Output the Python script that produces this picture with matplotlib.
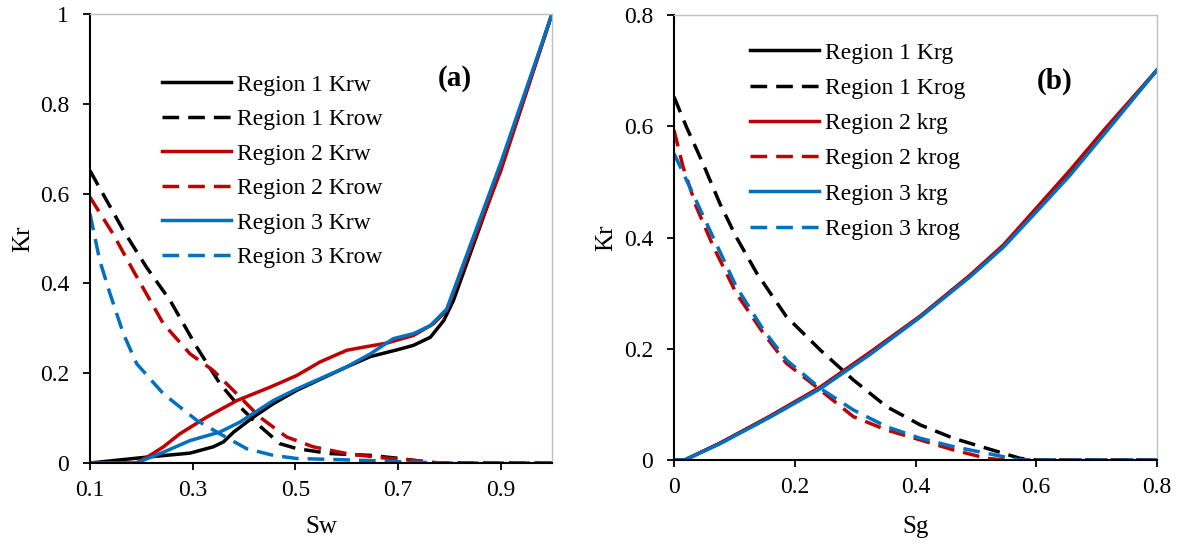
import matplotlib
matplotlib.use("Agg")
import matplotlib.pyplot as plt

plt.rcParams['font.family'] = ['Liberation Serif', 'DejaVu Serif']

BLACK, RED, BLUE = '#000000', '#C00000', '#0070C0'

# ---------------- Panel (a) data ----------------
sw_r1_krw = [0.10, 0.21, 0.295, 0.34, 0.36, 0.38, 0.418, 0.457, 0.503, 0.60, 0.646, 0.698, 0.73, 0.763, 0.789, 0.808, 0.90, 1.00]
r1_krw    = [0.00, 0.013, 0.022, 0.036, 0.047, 0.069, 0.102, 0.132, 0.162, 0.214, 0.237, 0.252, 0.262, 0.280, 0.317, 0.362, 0.655, 1.00]

sw_r2_krw = [0.10, 0.19, 0.217, 0.243, 0.275, 0.327, 0.386, 0.451, 0.503, 0.548, 0.60, 0.633, 0.678, 0.73, 0.769, 0.795, 0.90, 1.00]
r2_krw    = [0.00, 0.00, 0.017, 0.036, 0.065, 0.102, 0.139, 0.169, 0.195, 0.225, 0.251, 0.258, 0.267, 0.284, 0.310, 0.340, 0.650, 1.00]

sw_r3_krw = [0.10, 0.19, 0.243, 0.295, 0.353, 0.392, 0.457, 0.503, 0.60, 0.646, 0.691, 0.73, 0.763, 0.795, 0.90, 1.00]
r3_krw    = [0.00, 0.00, 0.024, 0.050, 0.069, 0.091, 0.139, 0.165, 0.214, 0.243, 0.277, 0.288, 0.306, 0.343, 0.668, 1.00]

sw_r1_krow = [0.10, 0.165, 0.21, 0.256, 0.308, 0.353, 0.386, 0.425, 0.47, 0.503, 0.568, 0.646, 0.704, 0.77, 1.00]
r1_krow    = [0.651, 0.518, 0.436, 0.362, 0.258, 0.177, 0.132, 0.088, 0.043, 0.032, 0.021, 0.017, 0.010, 0.00, 0.00]

sw_r2_krow = [0.10, 0.145, 0.184, 0.243, 0.295, 0.34, 0.386, 0.431, 0.483, 0.535, 0.60, 0.665, 0.73, 0.782, 1.00]
r2_krow    = [0.592, 0.51, 0.429, 0.31, 0.243, 0.206, 0.154, 0.102, 0.058, 0.036, 0.021, 0.012, 0.006, 0.00, 0.00]

sw_r3_krow = [0.10, 0.119, 0.139, 0.165, 0.191, 0.243, 0.308, 0.353, 0.405, 0.457, 0.503, 0.60, 0.73, 0.795, 1.00]
r3_krow    = [0.555, 0.451, 0.377, 0.288, 0.221, 0.154, 0.095, 0.065, 0.032, 0.017, 0.010, 0.007, 0.002, 0.00, 0.00]

# ---------------- Panel (b) data ----------------
sg_krg   = [0.00, 0.0177, 0.0757, 0.159, 0.242, 0.325, 0.408, 0.49, 0.546, 0.601, 0.656, 0.712, 0.80]
r1_krg   = [0.00, 0.00, 0.030, 0.078, 0.129, 0.192, 0.258, 0.331, 0.385, 0.451, 0.518, 0.590, 0.701]
r2_krg   = [0.00, 0.00, 0.030, 0.079, 0.131, 0.194, 0.259, 0.332, 0.387, 0.454, 0.521, 0.593, 0.701]
r3_krg   = [0.00, 0.00, 0.029, 0.077, 0.128, 0.190, 0.257, 0.329, 0.383, 0.447, 0.512, 0.585, 0.701]

sg_r1_krog = [0.00, 0.0205, 0.048, 0.076, 0.103, 0.137, 0.186, 0.242, 0.297, 0.352, 0.408, 0.463, 0.518, 0.573, 0.60, 0.80]
r1_krog    = [0.653, 0.599, 0.533, 0.461, 0.401, 0.336, 0.258, 0.198, 0.144, 0.096, 0.063, 0.039, 0.021, 0.003, 0.00, 0.00]

sg_r2_krog = [0.00, 0.015, 0.037, 0.065, 0.103, 0.148, 0.186, 0.242, 0.297, 0.352, 0.408, 0.463, 0.518, 0.546, 0.80]
r2_krog    = [0.593, 0.527, 0.455, 0.384, 0.300, 0.228, 0.174, 0.126, 0.078, 0.054, 0.036, 0.018, 0.003, 0.00, 0.00]

sg_r3_krog = [0.00, 0.026, 0.059, 0.103, 0.148, 0.186, 0.242, 0.297, 0.352, 0.408, 0.463, 0.518, 0.573, 0.80]
r3_krog    = [0.551, 0.491, 0.414, 0.312, 0.234, 0.180, 0.129, 0.090, 0.060, 0.039, 0.024, 0.012, 0.00, 0.00]

labels_a = ['Region 1 Krw', 'Region 1 Krow', 'Region 2 Krw', 'Region 2 Krow', 'Region 3 Krw', 'Region 3 Krow']
labels_b = ['Region 1 Krg', 'Region 1 Krog', 'Region 2 krg', 'Region 2 krog', 'Region 3 krg', 'Region 3 krog']

W, H = 1177, 545
fig = plt.figure(figsize=(W / 100, H / 100), dpi=100)
axA = fig.add_axes([90 / W, (H - 463) / H, 462 / W, 449 / H])
axB = fig.add_axes([674 / W, (H - 460) / H, 483 / W, 445 / H])

LW = 2.5
DASH = (4.8, 2.6)
FS = 17


def style(ax):
    for s in ['top', 'right']:
        ax.spines[s].set_color('#BFBFBF')
        ax.spines[s].set_linewidth(1.0)
    for s in ['left', 'bottom']:
        ax.spines[s].set_color('black')
        ax.spines[s].set_linewidth(1.5)
    ax.tick_params(direction='out', length=5, width=1.3, labelsize=FS)
    ax.tick_params(axis='y', pad=10)
    ax.tick_params(axis='x', pad=7)


def dashed(ax, x, y, c, lab):
    ln, = ax.plot(x, y, color=c, lw=LW, label=lab, solid_capstyle='butt')
    ln.set_dashes(DASH)
    return ln


# Panel (a)
axA.plot(sw_r1_krw, r1_krw, color=BLACK, lw=LW, label=labels_a[0])
dashed(axA, sw_r1_krow, r1_krow, BLACK, labels_a[1])
axA.plot(sw_r2_krw, r2_krw, color=RED, lw=LW, label=labels_a[2])
dashed(axA, sw_r2_krow, r2_krow, RED, labels_a[3])
axA.plot(sw_r3_krw, r3_krw, color=BLUE, lw=LW, label=labels_a[4])
dashed(axA, sw_r3_krow, r3_krow, BLUE, labels_a[5])
axA.set_xlim(0.1, 1.0)
axA.set_ylim(0, 1)
axA.set_xticks([0.1, 0.3, 0.5, 0.7, 0.9])
axA.set_xticklabels(['0.1', '0.3', '0.5', '0.7', '0.9'])
axA.set_yticks([0, 0.2, 0.4, 0.6, 0.8, 1.0])
axA.set_yticklabels(['0', '0.2', '0.4', '0.6', '0.8', '1'])
style(axA)
axA.set_xlabel('Sw', fontsize=18)
axA.set_ylabel('Kr', fontsize=18)
axA.xaxis.set_label_coords(0.5, -0.118)
axA.yaxis.set_label_coords(-0.121, 0.5)
axA.text(0.811, 0.857, '(a)', fontsize=21, fontweight='bold', ha='center', va='center')
axA.legend(loc='upper left', bbox_to_anchor=(0.156, 0.866), frameon=False, fontsize=FS,
           handlelength=2.92, handletextpad=0.25, labelspacing=0.55, borderpad=0, borderaxespad=0)

# Panel (b)
axB.plot(sg_krg, r1_krg, color=BLACK, lw=LW, label=labels_b[0])
dashed(axB, sg_r1_krog, r1_krog, BLACK, labels_b[1])
axB.plot(sg_krg, r2_krg, color=RED, lw=LW, label=labels_b[2])
dashed(axB, sg_r2_krog, r2_krog, RED, labels_b[3])
axB.plot(sg_krg, r3_krg, color=BLUE, lw=LW, label=labels_b[4])
dashed(axB, sg_r3_krog, r3_krog, BLUE, labels_b[5])
axB.set_xlim(0, 0.8)
axB.set_ylim(0, 0.8)
axB.set_xticks([0, 0.2, 0.4, 0.6, 0.8])
axB.set_xticklabels(['0', '0.2', '0.4', '0.6', '0.8'])
axB.set_yticks([0, 0.2, 0.4, 0.6, 0.8])
axB.set_yticklabels(['0', '0.2', '0.4', '0.6', '0.8'])
style(axB)
axB.set_xlabel('Sg', fontsize=18)
axB.set_ylabel('Kr', fontsize=18)
axB.xaxis.set_label_coords(0.5, -0.126)
axB.yaxis.set_label_coords(-0.118, 0.5)
axB.text(0.631, 0.68, '(b)', fontsize=21, fontweight='bold', ha='center', va='center')
axB.legend(loc='upper left', bbox_to_anchor=(0.157, 0.939), frameon=False, fontsize=FS,
           handlelength=2.92, handletextpad=0.25, labelspacing=0.58, borderpad=0, borderaxespad=0)

fig.savefig('out.png', dpi=100)
